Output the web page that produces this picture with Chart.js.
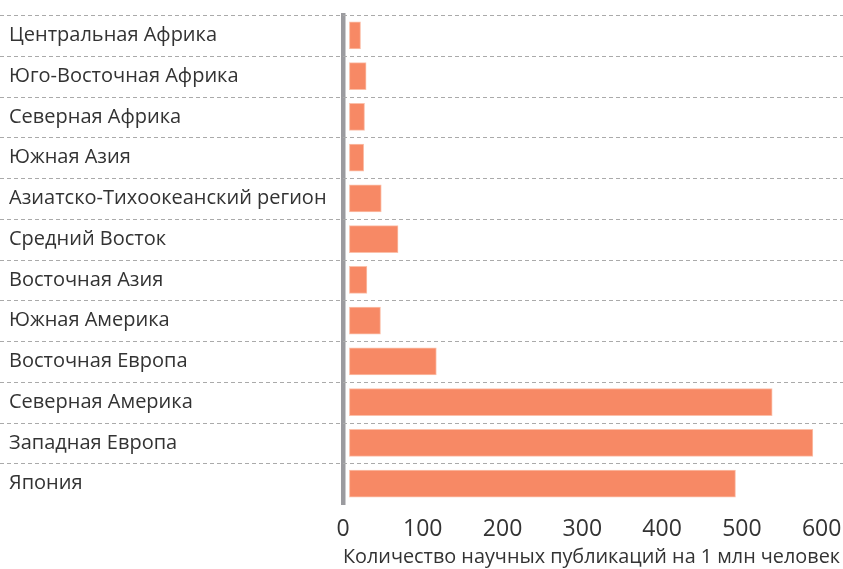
<!DOCTYPE html>
<html>
<head>
<meta charset="utf-8">
<script src="https://cdn.jsdelivr.net/npm/chart.js@4/dist/chart.umd.min.js"></script>
<style>
  html, body { margin: 0; padding: 0; background: #fff; overflow: hidden; }
  #wrap { width: 843px; height: 569px; position: relative; }
</style>
</head>
<body>
<div id="wrap"><canvas id="chart"></canvas></div>
<script>
var regions = [
  'Центральная Африка',
  'Юго-Восточная Африка',
  'Северная Африка',
  'Южная Азия',
  'Азиатско-Тихоокеанский регион',
  'Средний Восток',
  'Восточная Азия',
  'Южная Америка',
  'Восточная Европа',
  'Северная Америка',
  'Западная Европа',
  'Япония'
];
var publications = [22, 29, 27, 26, 48, 69, 30, 47, 117, 538, 589, 492];
var xTicks = [0, 100, 200, 300, 400, 500, 600];
var xTitle = 'Количество научных публикаций на 1 млн человек';

var FONT = '"Open Sans", "Noto Sans", sans-serif';

// dashed separators run across the whole width, labels included
var rowLines = {
  id: 'rowLines',
  beforeDatasetsDraw: function (chart) {
    var y = chart.scales.y;
    var ctx = chart.ctx;
    ctx.save();
    ctx.strokeStyle = '#aaaaaa';
    ctx.lineWidth = 1.2;
    ctx.setLineDash([4, 3]);
    for (var i = 0; i < regions.length; i++) {
      var py = Math.round(y.getPixelForValue(i - 0.5)) + 0.5;
      ctx.beginPath();
      ctx.moveTo(0, py);
      ctx.lineTo(chart.width, py);
      ctx.stroke();
    }
    ctx.restore();
  }
};

new Chart(document.getElementById('chart').getContext('2d'), {
  type: 'bar',
  data: {
    labels: regions,
    datasets: [{
      data: publications,
      base: 8,
      backgroundColor: '#f78965',
      borderColor: '#fbc0aa',
      borderWidth: 1,
      borderSkipped: false,
      barThickness: 27
    }]
  },
  options: {
    indexAxis: 'y',
    responsive: true,
    maintainAspectRatio: false,
    animation: false,
    layout: {
      padding: { left: 9, right: 3, top: 12, bottom: 0 }
    },
    plugins: {
      legend: { display: false },
      tooltip: { enabled: false }
    },
    scales: {
      x: {
        min: 0,
        max: 623,
        afterBuildTicks: function (scale) {
          scale.ticks = xTicks.map(function (v) { return { value: v }; });
        },
        afterFit: function (scale) {
          scale.height = 65;
          scale.paddingLeft = 0;
          scale.paddingRight = 0;
        },
        grid: { display: false, drawTicks: false },
        border: { display: false },
        ticks: {
          color: '#333333',
          padding: 12,
          font: { family: FONT, size: 23 }
        },
        title: {
          display: true,
          text: xTitle,
          align: 'end',
          color: '#333333',
          padding: { top: 5, bottom: 0 },
          font: { family: FONT, size: 20 }
        }
      },
      y: {
        afterFit: function (scale) {
          scale.width = 334;
        },
        grid: { display: false, drawTicks: false },
        border: { display: true, color: '#9b9b9f', width: 4.5 },
        ticks: {
          crossAlign: 'far',
          color: '#333333',
          font: { family: FONT, size: 20 }
        }
      }
    }
  },
  plugins: [rowLines]
});
</script>
</body>
</html>
